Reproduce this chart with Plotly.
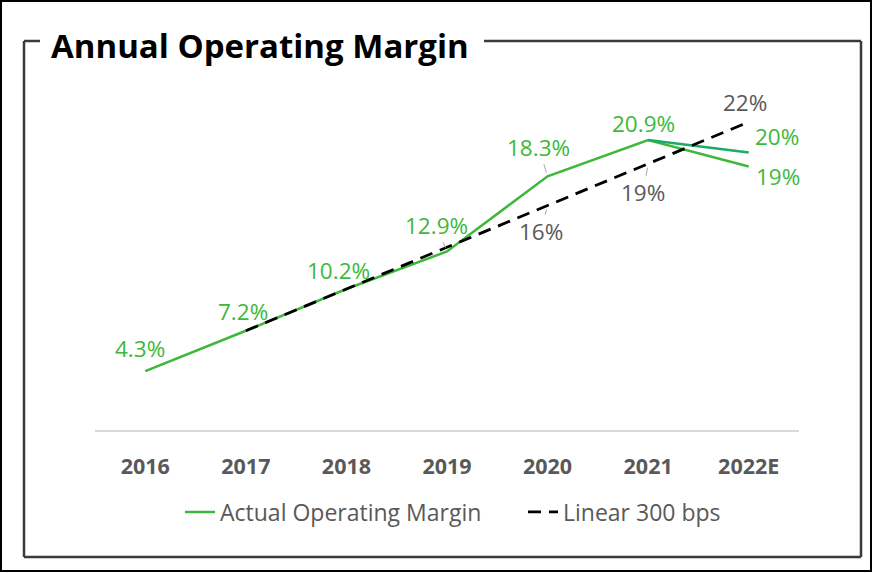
import plotly.graph_objects as go

W, H = 872, 573

years = ["2016", "2017", "2018", "2019", "2020", "2021", "2022E"]
actual = [4.3, 7.2, 10.2, 12.9, 18.3, 20.9, 19.0]
actual_labels = ["4.3%", "7.2%", "10.2%", "12.9%", "18.3%", "20.9%", "19%"]
alt_years = ["2021", "2022E"]
alt_values = [20.9, 20.0]
alt_labels = [None, "20%"]
linear = [None, 7.2, 10.2, 13.2, 16.2, 19.2, 22.2]
linear_labels = [None, None, None, None, "16%", "19%", "22%"]

GREEN = "#3DB83A"
TEAL = "#1EAA68"
GRAY = "#595959"
FONT = "Open Sans"
LBL = 22.5


def px(x):
    return x / W


def py(y):
    return 1 - y / H


fig = go.Figure()

fig.add_trace(go.Scatter(
    x=years, y=actual, mode="lines", name="Actual Operating Margin",
    line=dict(color=GREEN, width=2.5), hoverinfo="skip"))
fig.add_trace(go.Scatter(
    x=alt_years, y=alt_values, mode="lines", name="Alt",
    line=dict(color=TEAL, width=2.5), showlegend=False, hoverinfo="skip"))
fig.add_trace(go.Scatter(
    x=years, y=linear, mode="lines", name="Linear 300 bps",
    line=dict(color="black", width=2.8, dash="13px,8px"), hoverinfo="skip"))


def label(idx, v, lab, dx, dy, leader, color):
    f = dict(family=FONT, size=LBL, color=color)
    if leader:
        return dict(x=idx, y=v, xref="x", yref="y", text=lab, showarrow=True,
                    ax=dx, ay=-dy, arrowhead=0, arrowwidth=1, arrowcolor="#A6A6A6",
                    standoff=4, font=f)
    return dict(x=idx, y=v, xref="x", yref="y", text=lab, showarrow=False,
                xshift=dx, yshift=dy, font=f)


act_off = [(-5, 23), (-3, 19), (-8, 19), (-11, 26), (-9, 29), (-5, 17), (29, -10)]
act_leader = [False, False, False, True, True, False, False]
annotations = []
for i, (v, lab, (dx, dy), ld) in enumerate(zip(actual, actual_labels, act_off, act_leader)):
    annotations.append(label(i, v, lab, dx, dy, ld, GREEN))
for yr, v, lab in zip(alt_years, alt_values, alt_labels):
    if lab:
        annotations.append(label(years.index(yr), v, lab, 28, 16, False, GREEN))
lin_off = {4: (-7, -26, True), 5: (-5, -29, True), 6: (-4, 19, False)}
for i, (v, lab) in enumerate(zip(linear, linear_labels)):
    if lab:
        dx, dy, ld = lin_off[i]
        annotations.append(label(i, v, lab, dx, dy, ld, GRAY))

annotations.append(dict(x=px(260), y=py(45), xref="paper", yref="paper",
                        text="<b>Annual Operating Margin</b>", showarrow=False,
                        xanchor="center", yanchor="middle",
                        font=dict(family=FONT, size=33, color="black")))

shapes = [
    dict(type="rect", xref="paper", yref="paper", x0=px(1), y0=py(1), x1=px(871), y1=py(571),
         line=dict(color="black", width=2)),
]
frame = dict(color="#3A3A3A", width=2.5)
for (x0, y0, x1, y1) in [(24, 41, 40, 41), (484, 41, 861, 41), (24, 41, 24, 557),
                          (24, 557, 861, 557), (861, 41, 861, 557)]:
    shapes.append(dict(type="line", xref="paper", yref="paper", x0=px(x0), y0=py(y0),
                       x1=px(x1), y1=py(y1), line=frame))

fig.update_layout(
    width=W, height=H, margin=dict(l=0, r=0, t=0, b=0),
    paper_bgcolor="white", plot_bgcolor="white",
    showlegend=True,
    legend=dict(orientation="h", x=px(180), xanchor="left", y=py(512), yanchor="middle",
                entrywidth=298, entrywidthmode="pixels",
                font=dict(family=FONT, size=23, color=GRAY), bgcolor="rgba(0,0,0,0)"),
    xaxis=dict(domain=[px(95), px(799)], range=[-0.5, 6.5], type="category",
               showgrid=False, showline=False, zeroline=False, ticks="",
               tickfont=dict(family=FONT, size=21.5, color=GRAY, weight="bold"),
               ticklabelstandoff=20),
    yaxis=dict(domain=[py(431), py(83)], range=[0, 25], showgrid=False, showticklabels=False,
               zeroline=True, zerolinecolor="#D9D9D9", zerolinewidth=1.5, ticks=""),
    annotations=annotations,
    shapes=shapes,
)

fig.write_html("out.html", config={"displayModeBar": False},
               post_script="document.body.style.margin='0';document.body.style.overflow='hidden';")
